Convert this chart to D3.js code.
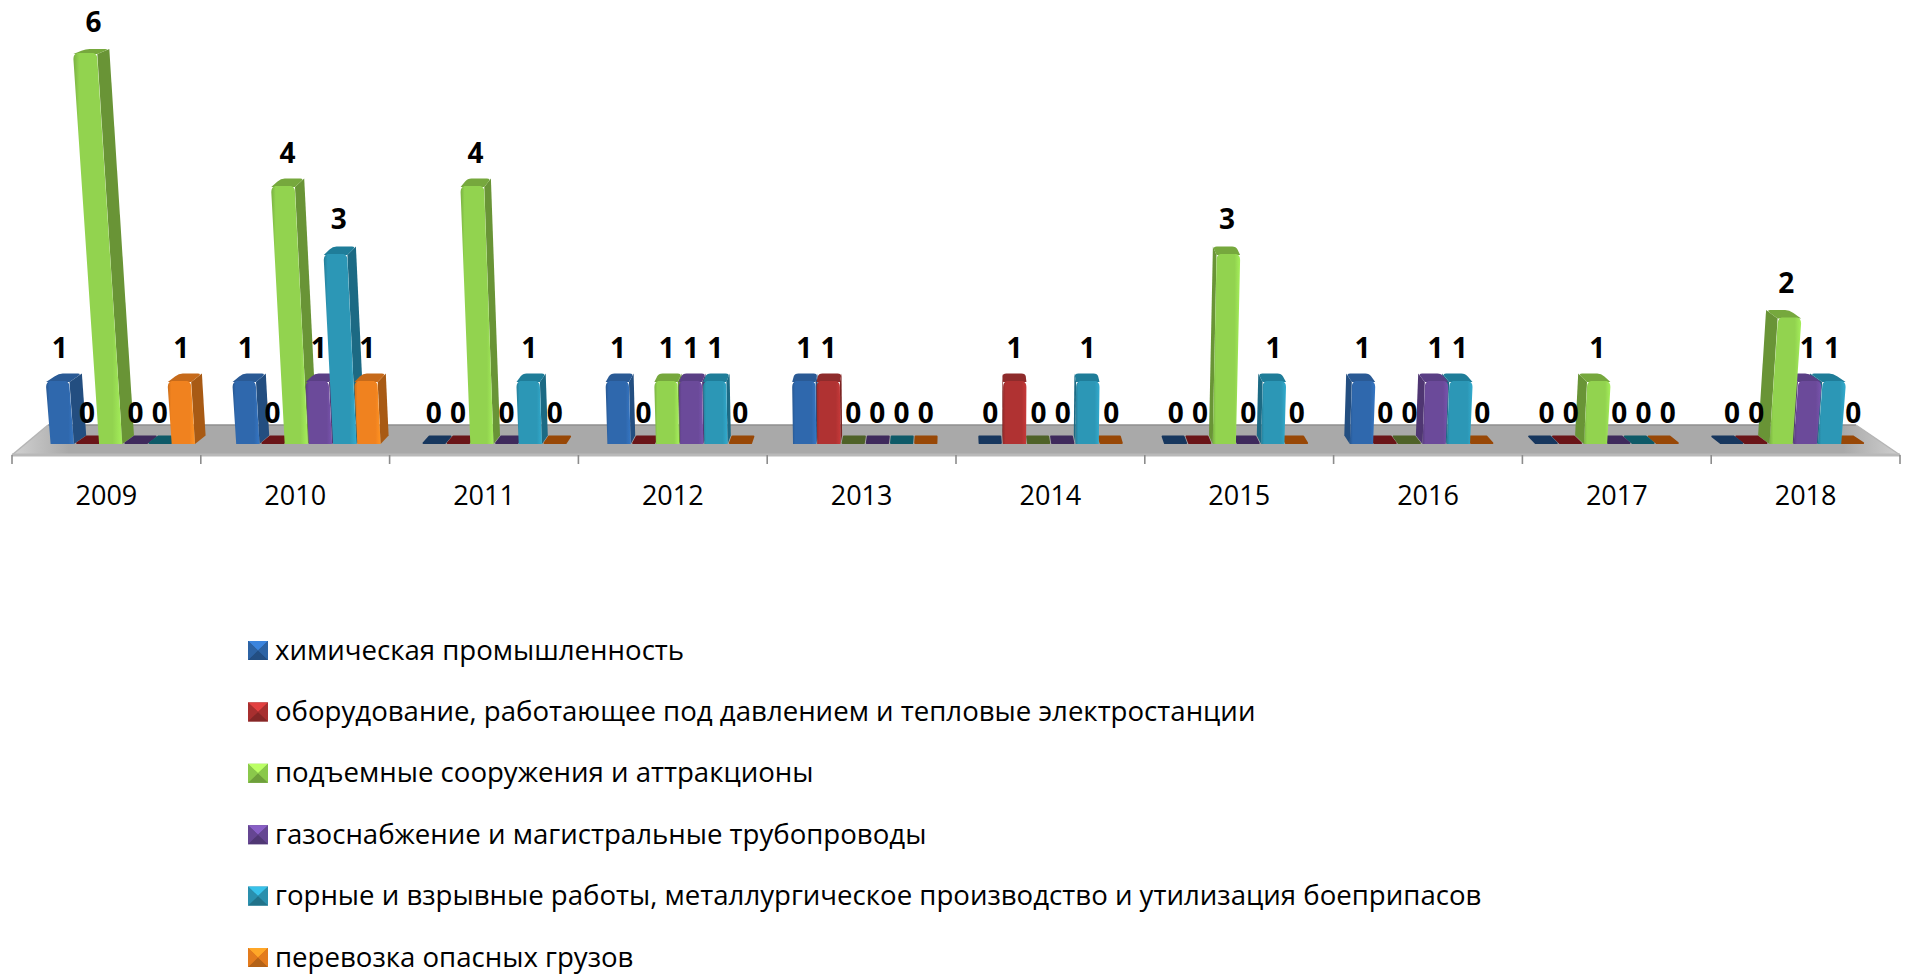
<!DOCTYPE html>
<html><head><meta charset="utf-8">
<script src="https://cdn.jsdelivr.net/npm/d3@7/dist/d3.min.js"></script>
<style>html,body{margin:0;padding:0;background:#fff;overflow:hidden}svg{display:block}text{font-family:"Open Sans",sans-serif;fill:#000}</style>
</head><body><svg id="c" width="1905" height="976"></svg>
<script>
const years=["2009","2010","2011","2012","2013","2014","2015","2016","2017","2018"];
const seriesNames=["химическая промышленность","оборудование, работающее под давлением и тепловые электростанции","подъемные сооружения и аттракционы","газоснабжение и магистральные трубопроводы","горные и взрывные работы, металлургическое производство и утилизация боеприпасов","перевозка опасных грузов"];
const chem=[1,1,0,1,1,0,0,1,0,0];
const pressure=[0,0,0,0,1,1,0,0,0,0];
const lifting=[6,4,4,1,0,0,3,0,1,2];
const gas=[0,1,0,1,0,0,0,1,0,1];
const mining=[0,3,1,1,0,1,1,1,0,1];
const hazmat=[1,1,0,0,0,0,0,0,0,0];
const seriesValues=[chem,pressure,lifting,gas,mining,hazmat];
const front=["#2f68ad","#b03232","#92d34f","#6b4a9a","#2c97b6","#f0821f"];
const side=["#234e80","#7c2322","#699436","#4f3672","#1c6a84","#a85a14"];
const top_=["#2a5a95","#8e2b2b","#76a83d","#5a3f85","#1f7d99","#c66a1a"];
const zeroCol=["#17375e","#6a1518","#4f6228","#3f2a5c","#0e5a68","#984807"];

const svg=d3.select("#c");
const defs=svg.append("defs");
const cx=955, leanK=0.005, depthK=0.014, depthY=8.5;
const y=d3.scaleLinear().domain([0,1,3,4,6]).range([444,382,255,187,54]);
const x0=d3.scaleBand().domain(years).range([30,1886]).paddingInner(0.222).paddingOuter(0.111);
const x1=d3.scaleBand().domain(d3.range(6)).range([0,x0.bandwidth()]).paddingInner(0.04);
const axisIdx=d3.scaleLinear().domain([0,10]).range([12,1900]);
const axisBand=d3.scaleBand().domain(years).range([12,1900]);
function P(x,z,v,lean=1){
  const k=(1+leanK*lean*v)*(1-depthK*z);
  return [cx+(x-cx)*k, y(v)-depthY*z*(v>=6?0.6:1)];
}
const pt=p=>p[0].toFixed(1)+" "+p[1].toFixed(1);
// floor
const floorG=defs.append("linearGradient").attr("id","floor").attr("x1",0).attr("x2",1).attr("y1",0).attr("y2",0);
floorG.append("stop").attr("offset",0).attr("stop-color","#d2d2d2");
floorG.append("stop").attr("offset",0.03).attr("stop-color","#a9a9a9");
floorG.append("stop").attr("offset",0.97).attr("stop-color","#a9a9a9");
floorG.append("stop").attr("offset",1).attr("stop-color","#cfcfcf");
const floorPts=[[axisIdx(0),455],[48,425],[1856,425],[axisIdx(10),455]];
svg.append("polygon").attr("points",floorPts.join(" ")).attr("fill","url(#floor)");
svg.append("line").attr("x1",48).attr("x2",1856).attr("y1",425).attr("y2",425).attr("stroke","#8f8f8f").attr("stroke-width",1.5);
svg.append("line").attr("x1",axisIdx(0)).attr("x2",48).attr("y1",455).attr("y2",425).attr("stroke","#b5b5b5").attr("stroke-width",1.5);
svg.append("line").attr("x1",axisIdx(10)).attr("x2",1856).attr("y1",455).attr("y2",425).attr("stroke","#b5b5b5").attr("stroke-width",1.5);
svg.append("line").attr("x1",axisIdx(0)).attr("x2",axisIdx(10)).attr("y1",455).attr("y2",455).attr("stroke","#b9b9b9").attr("stroke-width",3);
svg.selectAll(".tick-b").data(d3.range(11)).join("line").attr("class","tick-b")
  .attr("x1",d=>axisIdx(d)).attr("x2",d=>axisIdx(d)).attr("y1",455).attr("y2",464).attr("stroke","#8c8c8c").attr("stroke-width",1.6);
// axis labels
const ax=svg.append("g").attr("transform","translate(0,486)").call(d3.axisBottom(axisBand).tickSize(0).tickPadding(0));
ax.select(".domain").remove();
ax.selectAll("text").attr("font-size",27).attr("dy","0.72em").style("font-family",'"Open Sans",sans-serif').attr("fill","#000");

// gradients per series
front.forEach((c,i)=>{
  const g=defs.append("linearGradient").attr("id","f"+i).attr("x1",0).attr("x2",1).attr("y1",0).attr("y2",0);
  g.append("stop").attr("offset",0).attr("stop-color",d3.color(c).darker(0.5));
  g.append("stop").attr("offset",0.12).attr("stop-color",c);
  g.append("stop").attr("offset",0.8).attr("stop-color",c);
  g.append("stop").attr("offset",1).attr("stop-color",d3.color(c).brighter(0.35));
});
const line=d=>"M"+d.map(pt).join("L")+"Z";
// flatten marks, painter's order: outer bars first toward the centre
const marks=[];
years.forEach((yr,i)=>seriesValues.forEach((vals,s)=>{
  const l=x0(yr)+x1(s), w=x1.bandwidth();
  marks.push({i,s,v:vals[i],l,r:l+w,c:l+w/2});
}));
marks.sort((a,b)=>Math.abs(b.c-cx)-Math.abs(a.c-cx));
const bars=svg.append("g");
marks.forEach(m=>{
  const g=bars.append("g");
  const {l,r,v,s}=m;
  if(v===0){
    g.append("path").attr("d",line([P(l+1,0.1,0),P(l+1,0.9,0),P(r-1,0.9,0),P(r-1,0.1,0)])).attr("fill",zeroCol[s])
      .attr("stroke",zeroCol[s]).attr("stroke-width",2).attr("stroke-linejoin","round");
    return;
  }
  const sideX=m.c<cx?r:l;
  // side
  g.append("path").attr("d",line([P(sideX,0,0),P(sideX,1,0),P(sideX,1,v),P(sideX,0,v)])).attr("fill",side[s]);
  // top
  const a=P(l,0,v),b=P(r,0,v),c=P(r,1,v),d=P(l,1,v);
  const dm=[d[0]+(a[0]-d[0])*0.35,d[1]+(a[1]-d[1])*0.35], cm=[c[0]+(b[0]-c[0])*0.35,c[1]+(b[1]-c[1])*0.35];
  g.append("path").attr("fill",top_[s]).attr("d",
    `M${pt(a)}L${pt(dm)}Q${pt(d)} ${pt([d[0]+4,d[1]])}L${pt([c[0]-4,c[1]])}Q${pt(c)} ${pt(cm)}L${pt(b)}Z`);
  // front with rounded upper corners
  const bl=P(l,0,0),br=P(r,0,0);
  g.append("path").attr("fill",`url(#f${s})`).attr("d",
    `M${pt(bl)}L${pt([a[0],a[1]+5])}Q${pt(a)} ${pt([a[0]+4,a[1]-1])}L${pt([b[0]-4,b[1]-1])}Q${pt(b)} ${pt([b[0],b[1]+5])}L${pt(br)}Z`);
});
// value labels
const labelGap=d3.scaleOrdinal().domain([1,2,3,4,6]).range([24,26,26,24,22]);
const labels=svg.append("g");
marks.forEach(m=>{
  const p=P(m.c,0.05,m.v,0.7);
  labels.append("text").attr("x",p[0]).attr("y",m.v===0?423:y(m.v)-labelGap(m.v)).attr("text-anchor","middle")
    .attr("font-size",28).attr("font-weight",700).text(m.v);
});
// legend
const ly=d3.scalePoint().domain(d3.range(6)).range([650.5,957.5]);
const lg=svg.append("g").selectAll("g").data(seriesNames).join("g").attr("transform",(d,i)=>`translate(0,${ly(i)})`);
lg.each(function(d,i){
  const g=d3.select(this),x=248,w=20,h=19,t=-9.5,mx=x+w/2,my=t+h/2;
  const base=front[i];
  g.append("rect").attr("x",x).attr("y",t).attr("width",w).attr("height",h).attr("fill",d3.color(base).darker(0.4));
  g.append("polygon").attr("points",[[x,t],[x+w,t],[mx,my]].join(" ")).attr("fill",d3.color(base).brighter(0.7));
  g.append("polygon").attr("points",[[x,t+h],[x+w,t+h],[mx,my]].join(" ")).attr("fill",d3.color(base).darker(0.8));
  g.append("polygon").attr("points",[[x,t],[mx,my],[x,t+h]].join(" ")).attr("fill",d3.color(base).darker(0.15));
  g.append("polygon").attr("points",[[x+w,t],[mx,my],[x+w,t+h]].join(" ")).attr("fill",d3.color(base).darker(0.15));
  g.append("text").attr("x",275).attr("y",9).attr("font-size",27.6).text(d);
});
</script></body></html>
